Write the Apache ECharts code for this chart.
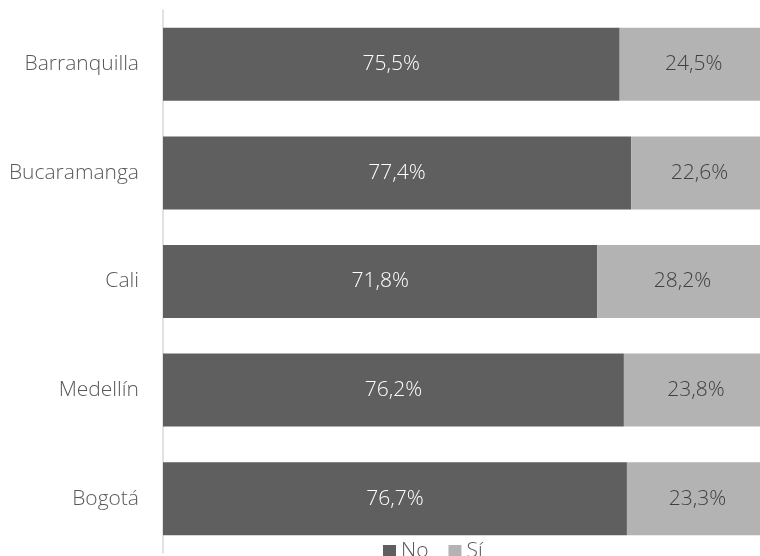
<!DOCTYPE html>
<html>
<head>
<meta charset="utf-8">
<script src="https://cdn.jsdelivr.net/npm/echarts@6/dist/echarts.min.js"></script>
<style>
html,body{margin:0;padding:0;background:#ffffff;}
#chart{width:760px;height:556px;}
</style>
</head>
<body>
<div id="chart"></div>
<script>
const categories = ['Barranquilla', 'Bucaramanga', 'Cali', 'Medellín', 'Bogotá'];
const noValues = [75.5, 77.4, 71.8, 76.2, 76.7];
const siValues = [24.5, 22.6, 28.2, 23.8, 23.3];
const seriesNames = ['No', 'Sí'];

const FONT = '"Open Sans", sans-serif';
const fmt = p => p.value.toFixed(1).replace('.', ',') + '%';

// The 100% bars run slightly past the right edge of the picture.
const visibleMax = 98.7;

const chart = echarts.init(document.getElementById('chart'), null, {renderer: 'canvas'});
chart.setOption({
  backgroundColor: '#ffffff',
  animation: false,
  textStyle: {fontFamily: FONT, fontWeight: 300},
  grid: {left: 163, right: 0, top: 10, bottom: 3, containLabel: false},
  legend: {
    data: seriesNames,
    left: 378,
    top: 536,
    itemWidth: 13,
    itemHeight: 13,
    itemGap: 20,
    icon: 'rect',
    textStyle: {fontFamily: FONT, fontWeight: 300, fontSize: 21, color: '#595959'}
  },
  xAxis: {
    type: 'value',
    min: 0,
    max: visibleMax,
    show: false
  },
  yAxis: {
    type: 'category',
    data: categories,
    inverse: true,
    axisTick: {show: false},
    axisLine: {show: true, lineStyle: {color: '#d9d9d9', width: 1.5}},
    axisLabel: {fontFamily: FONT, fontWeight: 300, fontSize: 21, color: '#595959', margin: 24},
    splitLine: {show: false}
  },
  series: [
    {
      name: seriesNames[0],
      type: 'bar',
      stack: 'total',
      clip: false,
      data: noValues,
      barWidth: 73,
      itemStyle: {color: '#5f5f5f'},
      label: {show: true, position: 'inside', formatter: fmt, fontFamily: FONT, fontWeight: 300, fontSize: 21, color: '#ffffff'}
    },
    {
      name: seriesNames[1],
      type: 'bar',
      stack: 'total',
      clip: false,
      data: siValues,
      barWidth: 73,
      itemStyle: {color: '#b3b3b3'},
      label: {show: true, position: 'inside', formatter: fmt, fontFamily: FONT, fontWeight: 300, fontSize: 21, color: '#404040'}
    }
  ]
});
</script>
</body>
</html>
